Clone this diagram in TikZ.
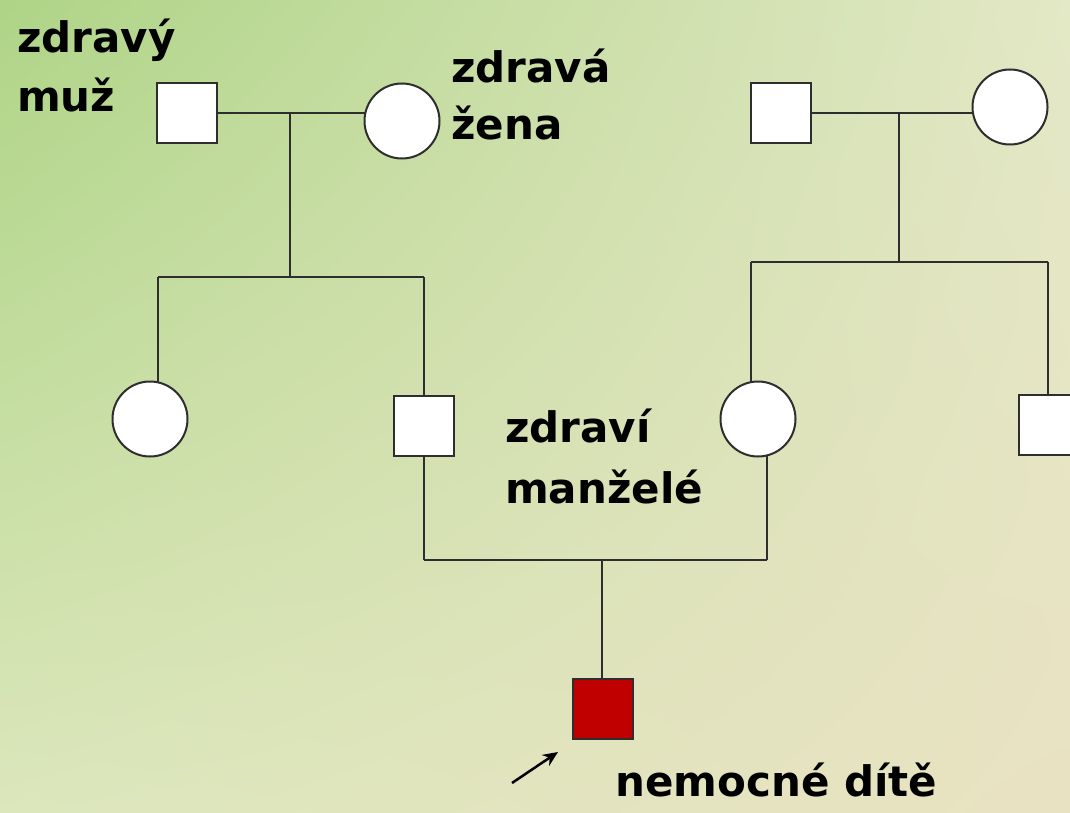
\documentclass[tikz,border=0pt]{standalone}
\usepackage{fontspec}
\setmainfont{DejaVu Sans}
\usetikzlibrary{arrows.meta,shadings}
\definecolor{bgUL}{HTML}{AED486}
\definecolor{bgUR}{HTML}{E3E8C6}
\definecolor{bgLL}{HTML}{DCE7BC}
\definecolor{bgLR}{HTML}{E9E2C2}
\definecolor{linegray}{HTML}{2E2E2E}
\definecolor{sickred}{HTML}{C00000}
\pgfdeclarelayer{bg}
\pgfdeclarelayer{edges}
\pgfsetlayers{bg,edges,main}
\tikzset{
  male/.style={rectangle, draw=linegray, line width=2pt, fill=white, minimum size=60pt, inner sep=0pt},
  female/.style={circle, draw=linegray, line width=2pt, fill=white, minimum size=75pt, inner sep=0pt},
  sick/.style={male, fill=sickred},
  link/.style={draw=linegray, line width=2pt},
  lbl/.style={anchor=base west, inner sep=0pt, font=\fontsize{42}{50}\selectfont\bfseries, text=black},
}
\begin{document}
\begin{tikzpicture}[x=1pt,y=-1pt]
\useasboundingbox (0,0) rectangle (1070,813);
\begin{pgfonlayer}{bg}
\shade[upper left=bgUL, upper right=bgUR, lower left=bgLL, lower right=bgLR] (0,0) rectangle (1070,813);
\end{pgfonlayer}
\begin{scope}
\clip (0,0) rectangle (1070,813);
% generation 1
\node[male] (m1) at (187,113) {};
\node[female] (w1) at (402,121) {};
\node[male] (m3) at (781,113) {};
\node[female] (w3) at (1010,107) {};
% generation 2
\node[female] (w2) at (150,419) {};
\node[male] (m2) at (424,426) {};
\node[female] (w4) at (758,419) {};
\node[male] (m4) at (1049,425) {};
% generation 3
\node[sick] (ch) at (603,708.5) {};
% coordinates
\coordinate (c1) at (290,113);
\coordinate (d1) at (158,277);
\coordinate (d2) at (424,277);
\coordinate (c3) at (899,113);
\coordinate (d3) at (751,262);
\coordinate (d4) at (1048,262);
\coordinate (e1) at (424,560);
\coordinate (e2) at (767,560);
\coordinate (e0) at (602,560);
\begin{pgfonlayer}{edges}
\draw[link] (m1.east) -- (m1.east -| w1.center);
\draw[link] (c1) -- (c1 |- d1);
\draw[link] (d1) -- (d2);
\draw[link] (d1) -- (d1 |- w2.center);
\draw[link] (d2) -- (m2.north);
\draw[link] (m3.east) -- (m3.east -| w3.center);
\draw[link] (c3) -- (c3 |- d3);
\draw[link] (d3) -- (d4);
\draw[link] (d3) -- (d3 |- w4.center);
\draw[link] (d4) -- (d4 |- m4.north);
\draw[link] (m2.south) -- (e1);
\draw[link] (e2 |- w4.center) -- (e2);
\draw[link] (e1) -- (e2);
\draw[link] (e0) -- (e0 |- ch.north);
\end{pgfonlayer}
\end{scope}
% arrow
\coordinate (a0) at (512,783);
\coordinate (a1) at (558,752);
\draw[line width=2.5pt, -{Stealth[length=15pt,width=13pt]}] (a0) -- (a1);
% labels
\node[lbl] (t1) at (17,53) {zdravý};
\node[lbl] (t2) at (17,112) {muž};
\node[lbl] (t3) at (451,83) {zdravá};
\node[lbl] (t4) at (451,140) {žena};
\node[lbl] (t5) at (505,442) {zdraví};
\node[lbl] (t6) at (505,503) {manželé};
\node[lbl] (t7) at (615,796) {nemocné dítě};
\end{tikzpicture}
\end{document}
